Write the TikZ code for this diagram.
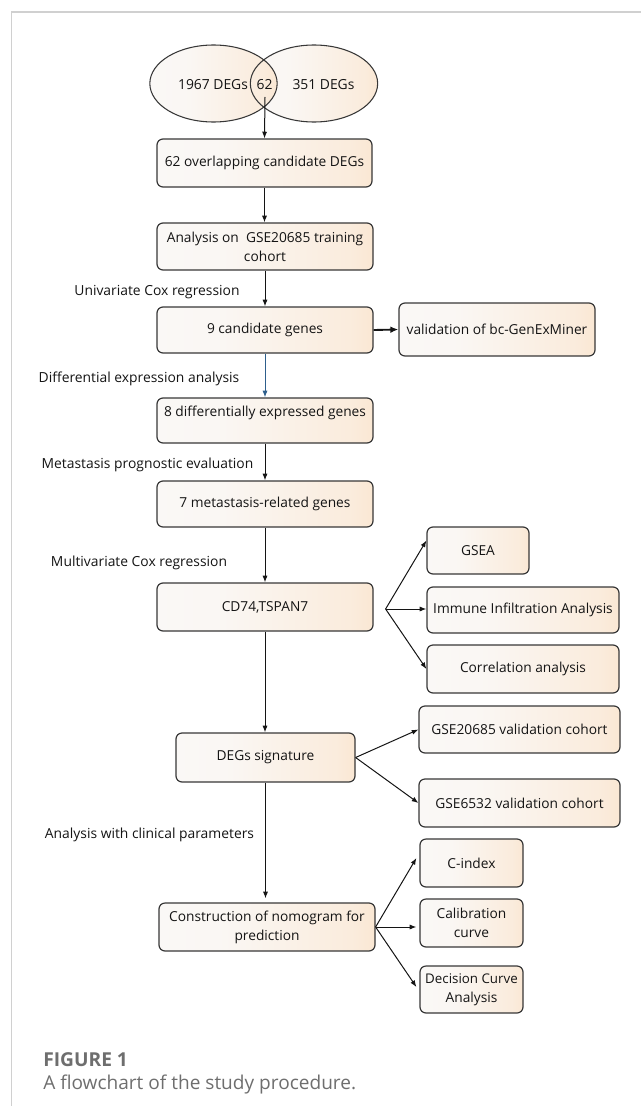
\documentclass[tikz,border=0pt]{standalone}
\usepackage{fontspec}
\setmainfont{Open Sans}
\usetikzlibrary{arrows.meta,calc,shapes.geometric}
\definecolor{peach}{RGB}{250,218,184}
\definecolor{offwhite}{RGB}{250,250,250}
\definecolor{boxline}{RGB}{55,55,55}
\definecolor{framegray}{RGB}{208,208,208}
\definecolor{capgray}{RGB}{110,110,110}
\definecolor{txt}{RGB}{20,20,20}
\definecolor{steel}{RGB}{46,95,140}
\pgfdeclarehorizontalshading{boxshade}{100bp}{color(0bp)=(offwhite); color(40bp)=(offwhite!90!peach); color(70bp)=(offwhite!55!peach); color(90bp)=(peach); color(100bp)=(peach!80!white)}
\tikzset{
  box/.style={draw=boxline, line width=0.9pt, rounded corners=4.5pt, shading=boxshade,
    align=center, inner sep=0pt, text=txt, font=\fontsize{10.3}{14.25}\selectfont},
  bsz/.style 2 args={minimum width={#1*0.75pt}, minimum height={#2*0.75pt}},
  lbl/.style={inner sep=0pt, text=txt, font=\fontsize{10.4}{14.25}\selectfont},
  ell/.style={ellipse, inner sep=0pt, minimum width=95.5pt, minimum height=57.75pt},
  arr/.style={draw=txt, line width=0.75pt, -{Latex[length=5pt,width=3.8pt]}},
}
\begin{document}
\begin{tikzpicture}[x=0.75pt,y=-0.75pt]
\useasboundingbox (0,0) rectangle (641,1106);
% frame
\draw[framegray, line width=1.1pt] (11.5,1106) -- (11.5,12) -- (641,12);
% Venn
\node[ell, shading=boxshade] (eR) at (314,83.5) {};
\node[ell, shading=boxshade] (eL) at (213.5,83.5) {};
\node[ell, draw=boxline, line width=0.8pt] (eRo) at (314,83.5) {};
\node[ell, draw=boxline, line width=0.8pt] (eLo) at (213.5,83.5) {};
\node[lbl] (t1967) at (213,85) {1967 DEGs};
\node[lbl] (n62) at (264.5,85) {62};
\node[lbl] (t351) at (323.5,85) {351 DEGs};
% main column
\node[box, bsz={215}{48}] (b1) at (264.5,163) {62 overlapping candidate DEGs};
\node[box, bsz={216}{47}] (b2) at (265,246.5) {Analysis on\ \ GSE20685 training\\cohort};
\node[box, bsz={216}{46}] (b3) at (265,330) {9 candidate genes};
\node[box, bsz={196}{53}] (bv) at (497,329.5) {validation of bc-GenExMiner};
\node[box, bsz={216}{45}] (b4) at (265,420.5) {8 differentially expressed genes\\\mbox{}};
\node[box, bsz={216}{46}] (b5) at (265,504) {7 metastasis-related genes};
\node[box, bsz={216}{48}] (b6) at (265,607) {CD74,TSPAN7};
\node[box, bsz={102}{47}] (gsea) at (478,550.5) {GSEA};
\node[box, bsz={192}{46}] (imm) at (523,610) {Immune Infiltration Analysis};
\node[box, bsz={192}{48}] (cor) at (523,669) {Correlation analysis};
\node[box, bsz={179}{49}] (sig) at (265.5,757.5) {DEGs signature};
\node[box, bsz={201}{47}] (g1) at (519.5,729.5) {GSE20685 validation cohort};
\node[box, bsz={201}{48}] (g2) at (519.5,803) {GSE6532 validation cohort};
\node[box, bsz={216}{48}] (con) at (267,927) {Construction of nomogram for\\prediction};
\node[box, bsz={103}{48}] (ci) at (471.5,863) {C-index};
\node[box, bsz={103}{48}] (cal) at (471.5,923) {Calibration\\curve};
\node[box, bsz={103}{47}] (dca) at (471.5,989.5) {\fontsize{10}{14.25}\selectfont Decision Curve\\Analysis};
% step labels
\node[lbl] (l1) at (157,292) {Univariate Cox regression};
\node[lbl] (l2) at (139,379) {Differential expression analysis};
\node[lbl] (l3) at (147.5,465) {Metastasis prognostic evaluation};
\node[lbl] (l4) at (139,563) {Multivariate Cox regression};
\node[lbl] (l5) at (149.5,835) {Analysis with clinical parameters};
% connectors
\draw[arr] ($(n62)+(0.5,12)$) -- (b1.north);
\draw[arr] (b1.south) -- (b1.south |- b2.north);
\draw[arr] (b2.south) -- (b3.north);
\draw[arr, draw=steel] (b3.south) -- (b4.north);
\draw[draw=txt, line width=1.4pt, -{Latex[length=6pt,width=5pt]}] (b3.east) -- (bv.west);
\draw[arr] (b4.south) -- (b5.north);
\draw[arr] (b5.south) -- (b6.north);
\coordinate (f1) at ($(b6.east)+(12,2)$);
\draw[arr] (f1) -- ($(gsea.west)+(0,-10)$);
\draw[arr] (f1) -- (f1 -| imm.west);
\draw[arr] (f1) -- (cor.west);
\draw[arr] (b6.south) -- (b6.south |- sig.north);
\draw[arr] (sig.east) -- (g1.west);
\draw[arr] (sig.east) -- (g2.west);
\draw[arr, shorten >=3pt] (sig.south) -- (sig.south |- con.north);
\draw[arr] (con.east) -- ($(ci.west)+(-3,-5)$);
\draw[arr] (con.east) -- ($(con.east -| cal.west)+(-3,0)$);
\draw[arr] (con.east) -- ($(dca.west)+(-3,-2.5)$);
% caption
\node[anchor=west, inner sep=0pt, text=capgray, font=\fontsize{14.4}{17}\selectfont\bfseries] (fig) at (43,1060) {FIGURE 1};
\node[anchor=west, inner sep=0pt, text=capgray, font=\fontsize{14.3}{17}\selectfont] (cap) at (43,1084) {A flowchart of the study procedure.};
\end{tikzpicture}
\end{document}
